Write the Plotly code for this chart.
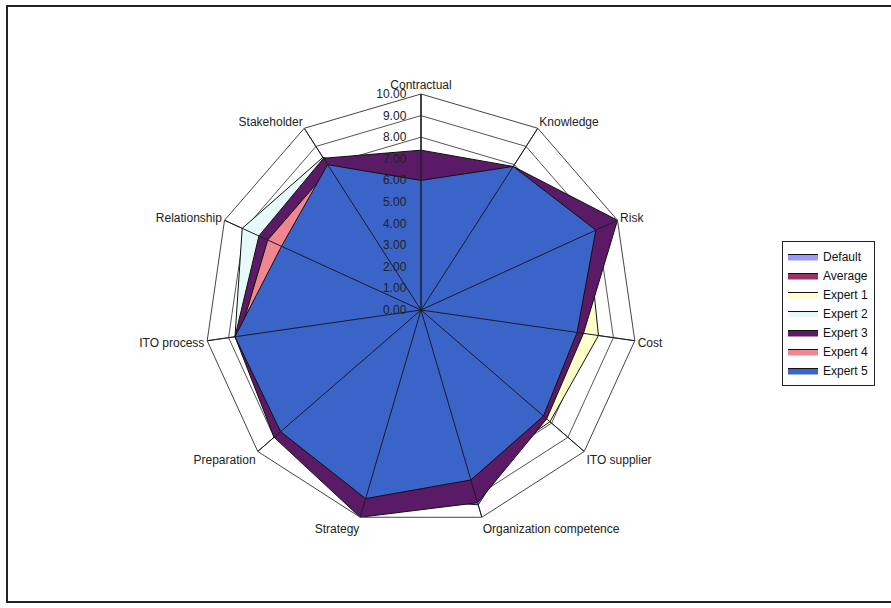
import plotly.graph_objects as go

categories = ["Contractual", "Knowledge", "Risk", "Cost", "ITO supplier",
              "Organization competence", "Strategy", "Preparation",
              "ITO process", "Relationship", "Stakeholder"]

series_names = ["Default", "Average", "Expert 1", "Expert 2", "Expert 3", "Expert 4", "Expert 5"]

default_vals = [5.8, 7.2, 8.2, 7.0, 7.2, 9.4, 9.0, 8.4, 8.5, 7.0, 7.8]
average_vals = [6.2, 7.7, 8.9, 7.6, 7.4, 8.3, 9.2, 8.6, 8.6, 8.0, 8.1]
expert1_vals = [6.0, 7.5, 8.5, 8.3, 7.9, 8.0, 9.0, 8.5, 8.5, 7.0, 8.0]
expert2_vals = [6.0, 7.5, 8.5, 7.0, 7.0, 8.0, 9.0, 8.5, 8.7, 9.1, 8.4]
expert3_vals = [7.4, 7.9, 10.0, 7.6, 7.7, 9.3, 10.0, 9.0, 8.7, 8.25, 8.35]
expert4_vals = [5.5, 7.5, 8.5, 7.0, 7.0, 8.0, 9.0, 8.4, 8.5, 7.8, 7.8]
expert5_vals = [6.0, 7.9, 8.9, 7.3, 7.5, 8.2, 9.1, 8.6, 8.7, 7.1, 8.0]

tick_vals = [0, 1, 2, 3, 4, 5, 6, 7, 8, 9, 10]
tick_labels = ["0.00", "1.00", "2.00", "3.00", "4.00", "5.00",
               "6.00", "7.00", "8.00", "9.00", "10.00"]

fill_colors = ["#9999FF", "#993366", "#FFFFCC", "#E6FAFA", "#5B1A66", "#F0868F", "#3A64C8"]

all_vals = [default_vals, average_vals, expert1_vals, expert2_vals,
            expert3_vals, expert4_vals, expert5_vals]

FONT = "Liberation Sans, Arial, sans-serif"
PAD = "\u00a0\u00a0\u00a0"

fig = go.Figure()
for name, vals, col in zip(series_names, all_vals, fill_colors):
    fig.add_trace(go.Scatterpolar(
        r=vals + [vals[0]],
        theta=categories + [categories[0]],
        mode="lines",
        fill="toself",
        fillcolor=col,
        line=dict(color="#111111", width=1),
        name=name,
        hoverinfo="skip",
    ))

# spokes drawn above the fills (like the Excel category axis lines)
rmax = tick_vals[-1]
spoke_r, spoke_t = [], []
for c in categories:
    spoke_r += [0, rmax, None]
    spoke_t += [c, c, None]
fig.add_trace(go.Scatterpolar(
    r=spoke_r, theta=spoke_t, mode="lines",
    line=dict(color="#1a1a2a", width=1),
    showlegend=False, hoverinfo="skip", connectgaps=False,
))

W, H = 891, 608
cx, cy, R = 421, 310, 216
fig.update_layout(
    width=W, height=H, autosize=False,
    margin=dict(l=0, r=0, t=0, b=0),
    paper_bgcolor="white",
    font=dict(family=FONT, size=12, color="#222222"),
    polar=dict(
        domain=dict(x=[(cx - R) / W, (cx + R) / W],
                    y=[(H - cy - R) / H, (H - cy + R) / H]),
        gridshape="linear",
        bgcolor="white",
        radialaxis=dict(
            range=[0, rmax],
            tickvals=tick_vals,
            ticktext=[t + PAD for t in tick_labels],
            angle=90,
            side="counterclockwise",
            tickangle=90,
            showline=True,
            linecolor="#222222",
            linewidth=1,
            gridcolor="#555555",
            gridwidth=1,
            ticks="",
            tickfont=dict(family=FONT, size=12, color="#222222"),
        ),
        angularaxis=dict(
            direction="clockwise",
            rotation=90,
            linecolor="#444444",
            linewidth=1,
            gridcolor="#555555",
            gridwidth=1,
            ticks="",
            tickfont=dict(family=FONT, size=12, color="#222222"),
        ),
    ),
    legend=dict(
        x=782 / W, y=1 - 241 / H, xanchor="left", yanchor="top",
        bordercolor="#222222", borderwidth=1, bgcolor="white",
        font=dict(family=FONT, size=12, color="#111111"),
        itemwidth=30, tracegroupgap=0,
    ),
    shapes=[dict(type="rect", xref="paper", yref="paper",
                 x0=7 / W, x1=1.02, y0=1 - 602 / H, y1=1 - 6 / H,
                 line=dict(color="#222222", width=2))],
)

fig.write_html("out.html")
